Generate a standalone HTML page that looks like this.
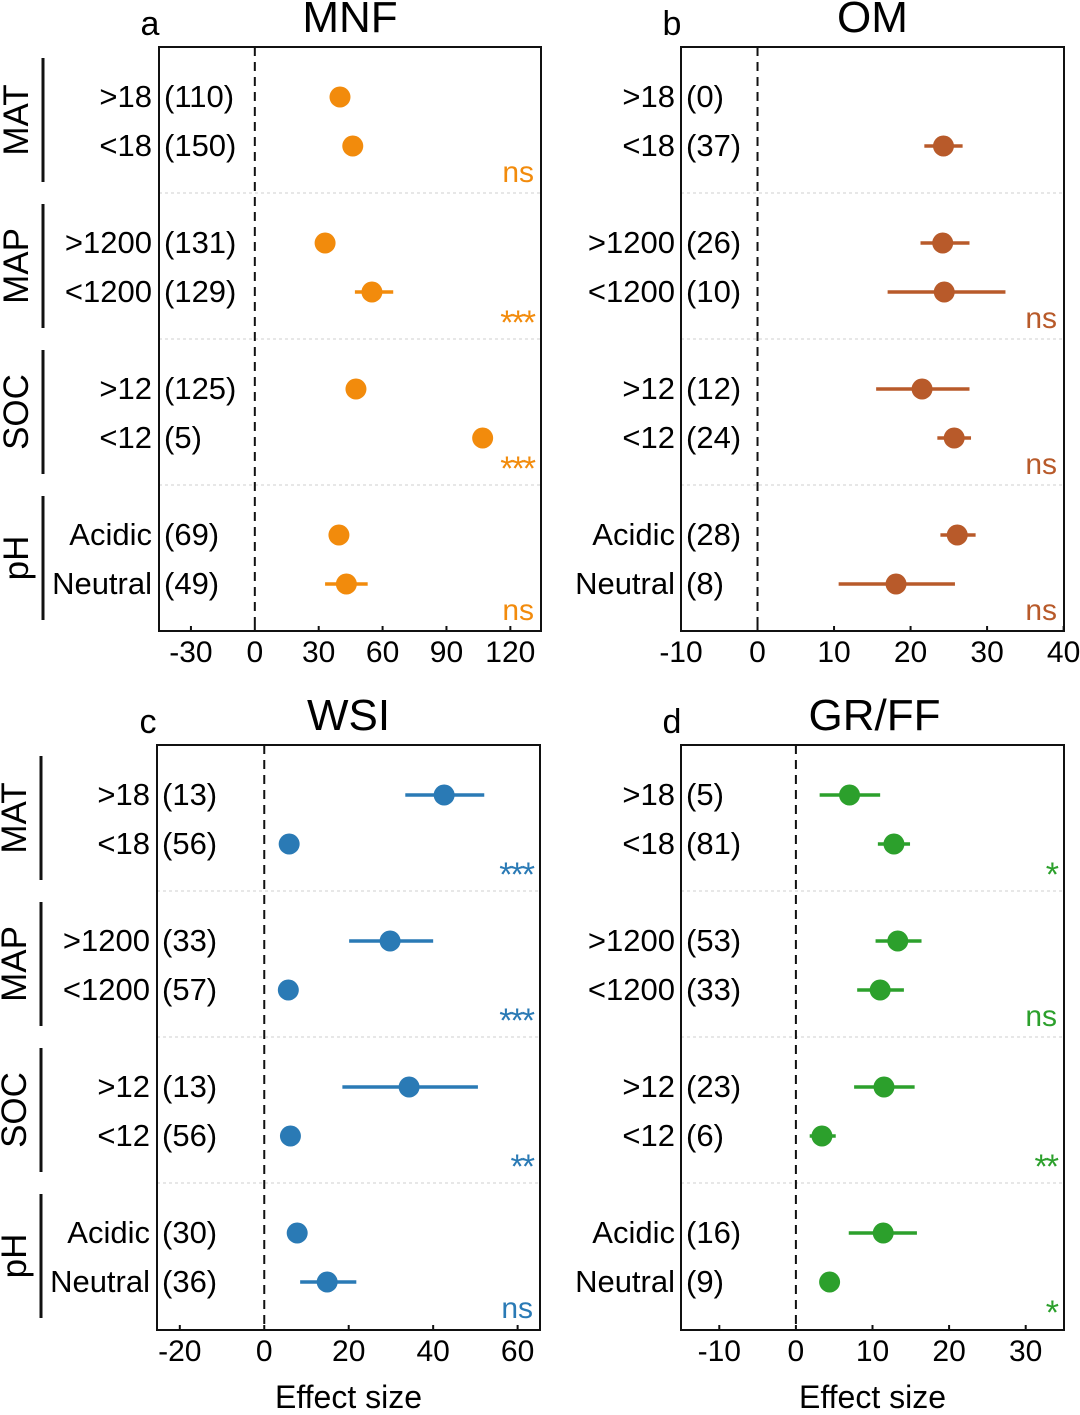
<!DOCTYPE html>
<html><head><meta charset="utf-8"><style>
html,body{margin:0;padding:0;background:#fff}
svg text{font-family:"Liberation Sans",Arial,sans-serif}
</style></head><body>
<svg id="chart" width="1080" height="1410" viewBox="0 0 1080 1410" xmlns="http://www.w3.org/2000/svg"></svg>
<script>
const groupNames = ["MAT","MAP","SOC","pH"];
const catLabels = [">18","<18",">1200","<1200",">12","<12","Acidic","Neutral"];

const aCounts = ["(110)","(150)","(131)","(129)","(125)","(5)","(69)","(49)"];
const aMean = [40,46,33,55,47.5,107,39.5,43];
const aLo = [37.5,43.5,30,47,44.5,105,37,33];
const aHi = [42.5,48.5,37,65,50.5,109,42,53];
const aSig = ["ns","***","***","ns"];

const bCounts = ["(0)","(37)","(26)","(10)","(12)","(24)","(28)","(8)"];
const bMean = [null,24.3,24.2,24.4,21.5,25.7,26.1,18.1];
const bLo = [null,21.8,21.3,17,15.5,23.5,23.9,10.6];
const bHi = [null,26.8,27.7,32.4,27.7,27.9,28.5,25.8];
const bSig = ["","ns","ns","ns"];

const cCounts = ["(13)","(56)","(33)","(57)","(13)","(56)","(30)","(36)"];
const cMean = [42.6,5.9,29.8,5.7,34.3,6.2,7.8,14.9];
const cLo = [33.4,5.9,20.1,5.7,18.5,6.2,7.8,8.5];
const cHi = [52.1,5.9,40,5.7,50.6,6.2,7.8,21.8];
const cSig = ["***","***","**","ns"];

const dCounts = ["(5)","(81)","(53)","(33)","(23)","(6)","(16)","(9)"];
const dMean = [7.0,12.8,13.3,11.0,11.5,3.4,11.4,4.4];
const dLo = [3.1,10.7,10.4,8,7.6,1.8,6.9,4.4];
const dHi = [11,14.9,16.4,14.1,15.5,5.2,15.8,4.4];
const dSig = ["*","ns","**","*"];

const aTicks = [-30,0,30,60,90,120];
const bTicks = [-10,0,10,20,30,40];
const cTicks = [-20,0,20,40,60];
const dTicks = [-10,0,10,20,30];

const NS = "http://www.w3.org/2000/svg";
const svg = document.getElementById('chart');
function mk(tag, attrs, parent, txt){
  const e = document.createElementNS(NS, tag);
  for (const k in attrs) e.setAttribute(k, attrs[k]);
  if (txt !== undefined) e.textContent = txt;
  (parent||svg).appendChild(e);
  return e;
}

const panels = [
  {id:'a', title:'MNF', letter:'a', x0:159, x1:541, top:47, bot:631, dmin:-45, dmax:134.4, color:'#f28b0c', counts:aCounts, mean:aMean, lo:aLo, hi:aHi, sig:aSig, ticks:aTicks, groups:true, catX:152, cntX:164, xlabel:false},
  {id:'b', title:'OM', letter:'b', x0:681, x1:1064, top:47, bot:631, dmin:-10, dmax:40.05, color:'#b85a2a', counts:bCounts, mean:bMean, lo:bLo, hi:bHi, sig:bSig, ticks:bTicks, groups:false, catX:675, cntX:686, xlabel:false},
  {id:'c', title:'WSI', letter:'c', x0:157, x1:540, top:745, bot:1330, dmin:-25.4, dmax:65.3, color:'#2a7ab5', counts:cCounts, mean:cMean, lo:cLo, hi:cHi, sig:cSig, ticks:cTicks, groups:true, catX:150, cntX:162, xlabel:true},
  {id:'d', title:'GR/FF', letter:'d', x0:681, x1:1064, top:745, bot:1330, dmin:-15, dmax:35, color:'#2ca02c', counts:dCounts, mean:dMean, lo:dLo, hi:dHi, sig:dSig, ticks:dTicks, groups:false, catX:675, cntX:686, xlabel:true}
];

panels.forEach(p => {
  const g = mk('g', {});
  
  
  const sx = v => p.x0 + (v - p.dmin) / (p.dmax - p.dmin) * (p.x1 - p.x0);
  const rowY = i => p.top + 50 + Math.floor(i/2)*146 + (i%2)*49;
  const cx = (p.x0 + p.x1) / 2;

  const tl = mk('text', {x:cx-(p.id==='d'?-2:0), y:p.top-15, 'text-anchor':'middle', 'font-size':44}, g, p.title);
  
  
  const lt = mk('text', {x:p.x0-9, y:p.top-12, 'text-anchor':'middle', 'font-size':34}, g, p.letter);
  
  

  for (let k=1;k<4;k++){
    const y = p.top + 146*k;
    const s = mk('line', {x1:p.x0, x2:p.x1, y1:y, y2:y, stroke:'#cfcfcf', 'stroke-width':1, 'stroke-dasharray':'3,3'}, g);
    
    
  }
  const z = mk('line', {x1:sx(0), x2:sx(0), y1:p.top, y2:p.bot, stroke:'#111', 'stroke-width':2, 'stroke-dasharray':'9,6'}, g);
  
  
  const bx = mk('rect', {x:p.x0, y:p.top, width:p.x1-p.x0, height:p.bot-p.top, fill:'none', stroke:'#111', 'stroke-width':2}, g);
  
  

  p.ticks.forEach(t => {
    const x = sx(t);
    const tk = mk('line', {x1:x, x2:x, y1:p.bot, y2:p.bot-5, stroke:'#111', 'stroke-width':2}, g);
    
    
    const tt = mk('text', {x:x, y:p.bot+31, 'text-anchor':'middle', 'font-size':30}, g, String(t));
    
    
  });
  if (p.xlabel){
    const xl = mk('text', {x:cx+(p.id==='c'?0:0), y:p.bot+78, 'text-anchor':'middle', 'font-size':32}, g, 'Effect size');
    
    
  }

  if (p.groups){
    groupNames.forEach((gn, k) => {
      const y0 = p.top + 11 + 146*k, y1 = y0 + 124;
      const bar = mk('line', {x1:p.x0-116, x2:p.x0-116, y1:y0, y2:y1, stroke:'#111', 'stroke-width':3}, g);
      
      
      const ym = (y0+y1)/2;
      const gt = mk('text', {x:0, y:0, 'text-anchor':'middle', 'font-size':35, transform:`translate(${p.x0-118-13},${ym}) rotate(-90)`}, g, gn);
      
      
    });
  }

  catLabels.forEach((c, i) => {
    const y = rowY(i);
    const ct = mk('text', {x:p.catX, y:y+10, 'text-anchor':'end', 'font-size':31}, g, c);
    
    
    const nt = mk('text', {x:p.cntX, y:y+10, 'font-size':31}, g, p.counts[i]);
    
    
    if (p.mean[i] === null) return;
    const ci = mk('line', {x1:sx(p.lo[i]), x2:sx(p.hi[i]), y1:y, y2:y, stroke:p.color, 'stroke-width':3.5}, g);
    
    
    const pt = mk('circle', {cx:sx(p.mean[i]), cy:y, r:10.5, fill:p.color}, g);
    
    
  });

  p.sig.forEach((s, k) => {
    if (!s) return;
    const yb = p.top + 146*k;
    const isNs = s === 'ns';
    const st = mk('text', {x:p.x1-7, y: isNs ? yb+135 : yb+141, 'text-anchor':'end', 'font-size': isNs ? 30 : 34, 'letter-spacing': isNs ? 0 : -2, fill:p.color}, g, s);
    
    
  });
});
</script>
</body></html>
